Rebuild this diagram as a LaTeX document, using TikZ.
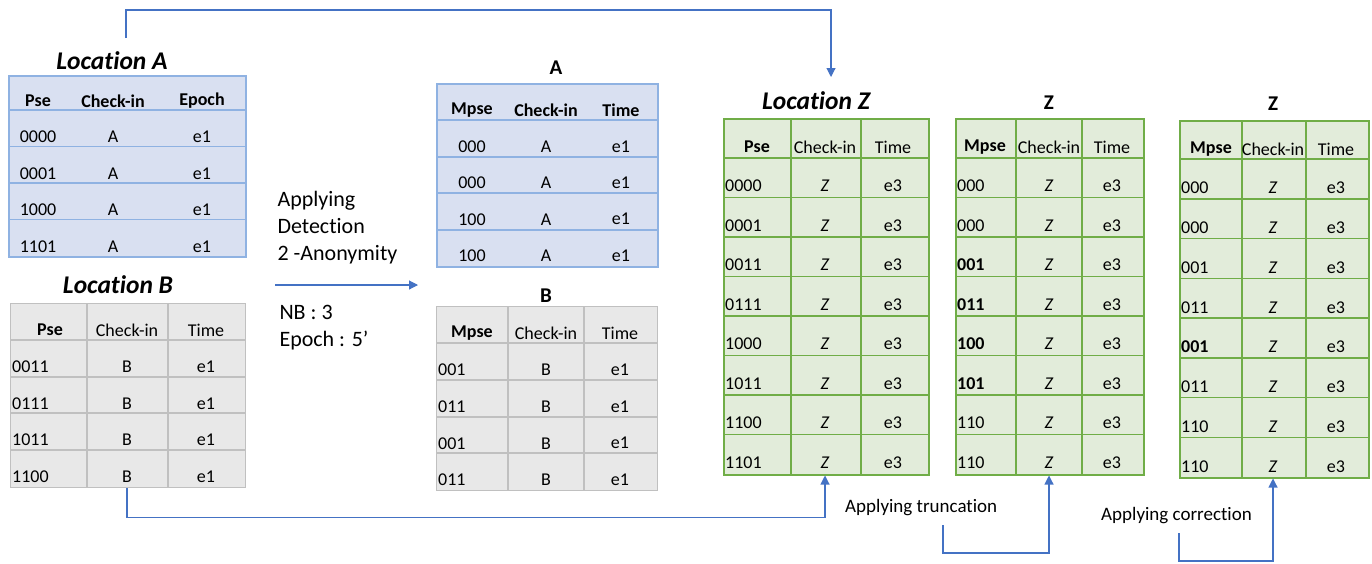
\documentclass[tikz,border=0pt]{standalone}
\usepackage{fontspec}
\setmainfont{Carlito}[Ligatures=NoCommon]
\usetikzlibrary{arrows.meta}

\definecolor{blueFill}{RGB}{217,224,241}
\definecolor{blueLine}{RGB}{143,178,226}
\definecolor{grayFill}{RGB}{232,232,232}
\definecolor{grayLine}{RGB}{192,192,192}
\definecolor{greenFill}{RGB}{226,236,218}
\definecolor{greenLine}{RGB}{112,173,71}
\definecolor{arrBlue}{RGB}{68,114,196}

\tikzset{
  tab/.style={rectangle, anchor=north west, inner sep=0pt},
  tabA/.style={tab, fill=blueFill, draw=blueLine, line width=1.5pt},
  tabB/.style={tab, fill=grayFill, draw=grayLine, line width=1.2pt},
  tabZ/.style={tab, fill=greenFill, draw=greenLine, line width=1.5pt},
  gridA/.style={blueLine, line width=1.5pt},
  gridB/.style={grayLine, line width=1.2pt},
  gridZ/.style={greenLine, line width=1.5pt},
  cell/.style={inner sep=0pt, font=\fontsize{18}{21}\selectfont},
  hcell/.style={inner sep=0pt, font=\fontsize{18}{21}\selectfont\bfseries},
  lcell/.style={cell, anchor=west},
  ttl/.style={font=\fontsize{25.5}{30}\selectfont\bfseries\itshape},
  sttl/.style={font=\fontsize{21}{25}\selectfont\bfseries},
  note/.style={align=left, anchor=west, font=\fontsize{22}{27}\selectfont},
  arr/.style={arrBlue, line width=1.1pt, -{Triangle[width=9pt,length=9pt]}},
}

\begin{document}
\begin{tikzpicture}[x=1pt, y=-1pt]
\useasboundingbox (0,0) rectangle (1372,563);

% Location A
\node[ttl] (tA) at (112,61) {Location A};
\node[tabA, minimum width=237, minimum height=181] (locA) at (8,75) {};
\foreach \y in {110,146.5,183,219.5} \draw[gridA] (8,\y) -- (245,\y);
\node[hcell] (lA-0-1) at (38,101) {Pse};
\node[hcell] (lA-0-2) at (113,101) {Check-in};
\node[hcell] (lA-0-3) at (202,101) {Epoch};
\foreach \p [count=\i] in {0000,0001,1000,1101} {
  \node[cell] (lA-\i-1) at (38,{100.5+36.5*\i}) {\p};
  \node[cell] (lA-\i-2) at (113,{100.5+36.5*\i}) {A};
  \node[cell] (lA-\i-3) at (202,{100.5+36.5*\i}) {e1};
}

% Location B
\node[ttl] (tB) at (118,285) {Location B};
\node[tabB, minimum width=235, minimum height=184] (locB) at (10,303) {};
\foreach \y in {340,377,413,450} \draw[gridB] (10,\y) -- (245,\y);
\foreach \x in {87,168} \draw[gridB] (\x,303) -- (\x,487);
\node[hcell] (lB-0-1) at (50,330) {Pse};
\node[cell] (lB-0-2) at (127,330) {Check-in};
\node[cell] (lB-0-3) at (206,330) {Time};
\foreach \p [count=\i] in {0011,0111,1011,1100} {
  \node[lcell] (lB-\i-1) at (12,{330.5+36.5*\i}) {\p};
  \node[cell] (lB-\i-2) at (127,{330.5+36.5*\i}) {B};
  \node[cell] (lB-\i-3) at (206,{330.5+36.5*\i}) {e1};
}

% detection step
\node[note] (det) at (274,228) {Applying\\Detection\\2 -Anonymity};
\node[note] (par) at (276,328) {NB : 3\\Epoch : 5’};
\coordinate (detS) at (275,285);
\coordinate (detE) at (418,285);
\draw[arr] (detS) -- (detE);

% A after detection
\node[sttl] (tmA) at (556,68) {A};
\node[tabA, minimum width=221, minimum height=183] (midA) at (436,83) {};
\foreach \y in {120,157,193,230} \draw[gridA] (436,\y) -- (657,\y);
\node[hcell] (mA-0-1) at (472,110) {Mpse};
\node[hcell] (mA-0-2) at (546,110) {Check-in};
\node[hcell] (mA-0-3) at (621,110) {Time};
\foreach \p [count=\i] in {000,000,100,100} {
  \node[cell] (mA-\i-1) at (472,{110.5+36.25*\i}) {\p};
  \node[cell] (mA-\i-2) at (546,{110.5+36.25*\i}) {A};
  \node[cell] (mA-\i-3) at (621,{110.5+36.25*\i}) {e1};
}

% B after detection
\node[sttl] (tmB) at (546,296) {B};
\node[tabB, minimum width=221, minimum height=184] (midB) at (436,306) {};
\foreach \y in {343,380,417,453} \draw[gridB] (436,\y) -- (657,\y);
\foreach \x in {508,584} \draw[gridB] (\x,306) -- (\x,490);
\node[hcell] (mB-0-1) at (472,333) {Mpse};
\node[cell] (mB-0-2) at (546,333) {Check-in};
\node[cell] (mB-0-3) at (620,333) {Time};
\foreach \p [count=\i] in {001,011,001,011} {
  \node[lcell] (mB-\i-1) at (438,{333+36.75*\i}) {\p};
  \node[cell] (mB-\i-2) at (546,{333+36.75*\i}) {B};
  \node[cell] (mB-\i-3) at (620,{333+36.75*\i}) {e1};
}

% Location Z
\node[ttl] (tZ) at (816,101) {Location Z};
\node[tabZ, minimum width=205, minimum height=356] (zA) at (723,118) {};
\foreach \i in {0,...,7} \draw[gridZ] (723,{158+39.5*\i}) -- (928,{158+39.5*\i});
\foreach \x in {791,861} \draw[gridZ] (\x,118) -- (\x,474);
\node[hcell] (zA-0-1) at (757,147) {Pse};
\node[cell] (zA-0-2) at (825,147) {Check-in};
\node[cell] (zA-0-3) at (893,147) {Time};
\foreach \p [count=\i] in {0000,0001,0011,0111,1000,1011,1100,1101} {
  \node[lcell] (zA-\i-1) at (725,{146.5+39.5*\i}) {\p};
  \node[cell] (zA-\i-2) at (825,{146.5+39.5*\i}) {\textit{Z}};
  \node[cell] (zA-\i-3) at (893,{146.5+39.5*\i}) {e3};
}

% Z after truncation
\node[sttl] (tZb) at (1049,103) {Z};
\node[tabZ, minimum width=188, minimum height=356] (zB) at (955,118) {};
\foreach \i in {0,...,7} \draw[gridZ] (955,{158+39.5*\i}) -- (1143,{158+39.5*\i});
\foreach \x in {1016,1082} \draw[gridZ] (\x,118) -- (\x,474);
\node[hcell] (zB-0-1) at (985,147) {Mpse};
\node[cell] (zB-0-2) at (1049,147) {Check-in};
\node[cell] (zB-0-3) at (1112,147) {Time};
\foreach \p [count=\i] in {000,000,\textbf{001},\textbf{011},\textbf{100},\textbf{101},110,110} {
  \node[lcell] (zB-\i-1) at (957,{146.5+39.5*\i}) {\p};
  \node[cell] (zB-\i-2) at (1049,{146.5+39.5*\i}) {\textit{Z}};
  \node[cell] (zB-\i-3) at (1112,{146.5+39.5*\i}) {e3};
}

% Z after correction
\node[sttl] (tZc) at (1273,104) {Z};
\node[tabZ, minimum width=189, minimum height=357] (zC) at (1179,120) {};
\foreach \i in {0,...,7} \draw[gridZ] (1179,{159+39.75*\i}) -- (1368,{159+39.75*\i});
\foreach \x in {1242,1306} \draw[gridZ] (\x,120) -- (\x,477);
\node[hcell] (zC-0-1) at (1211,149) {Mpse};
\node[cell] (zC-0-2) at (1273,149) {Check-in};
\node[cell] (zC-0-3) at (1336,149) {Time};
\foreach \p [count=\i] in {000,000,001,011,\textbf{001},011,110,110} {
  \node[lcell] (zC-\i-1) at (1181,{148.25+39.75*\i}) {\p};
  \node[cell] (zC-\i-2) at (1273,{148.25+39.75*\i}) {\textit{Z}};
  \node[cell] (zC-\i-3) at (1336,{148.25+39.75*\i}) {e3};
}

% connectors
\coordinate (topS) at (126,38);
\coordinate (topE) at (831,77);
\draw[arr] (topS) -- (126,10) -| (topE);
\draw[arr] (locB.south -| lB-4-2) -- ++(0,29) -| (zA.south -| zA-8-2);
\node[cell, anchor=west, font=\fontsize{19}{22}\selectfont] (trunc) at (845,508) {Applying truncation};
\coordinate (trS) at (943,525);
\draw[arr] (trS) -- ++(0,28) -| (zB.south -| zB-8-2);
\node[cell, anchor=west, font=\fontsize{19}{22}\selectfont] (corr) at (1101,516) {Applying correction};
\coordinate (coS) at (1179,533);
\draw[arr] (coS) -- ++(0,28) -| (zC.south -| zC-8-2);
\end{tikzpicture}
\end{document}
